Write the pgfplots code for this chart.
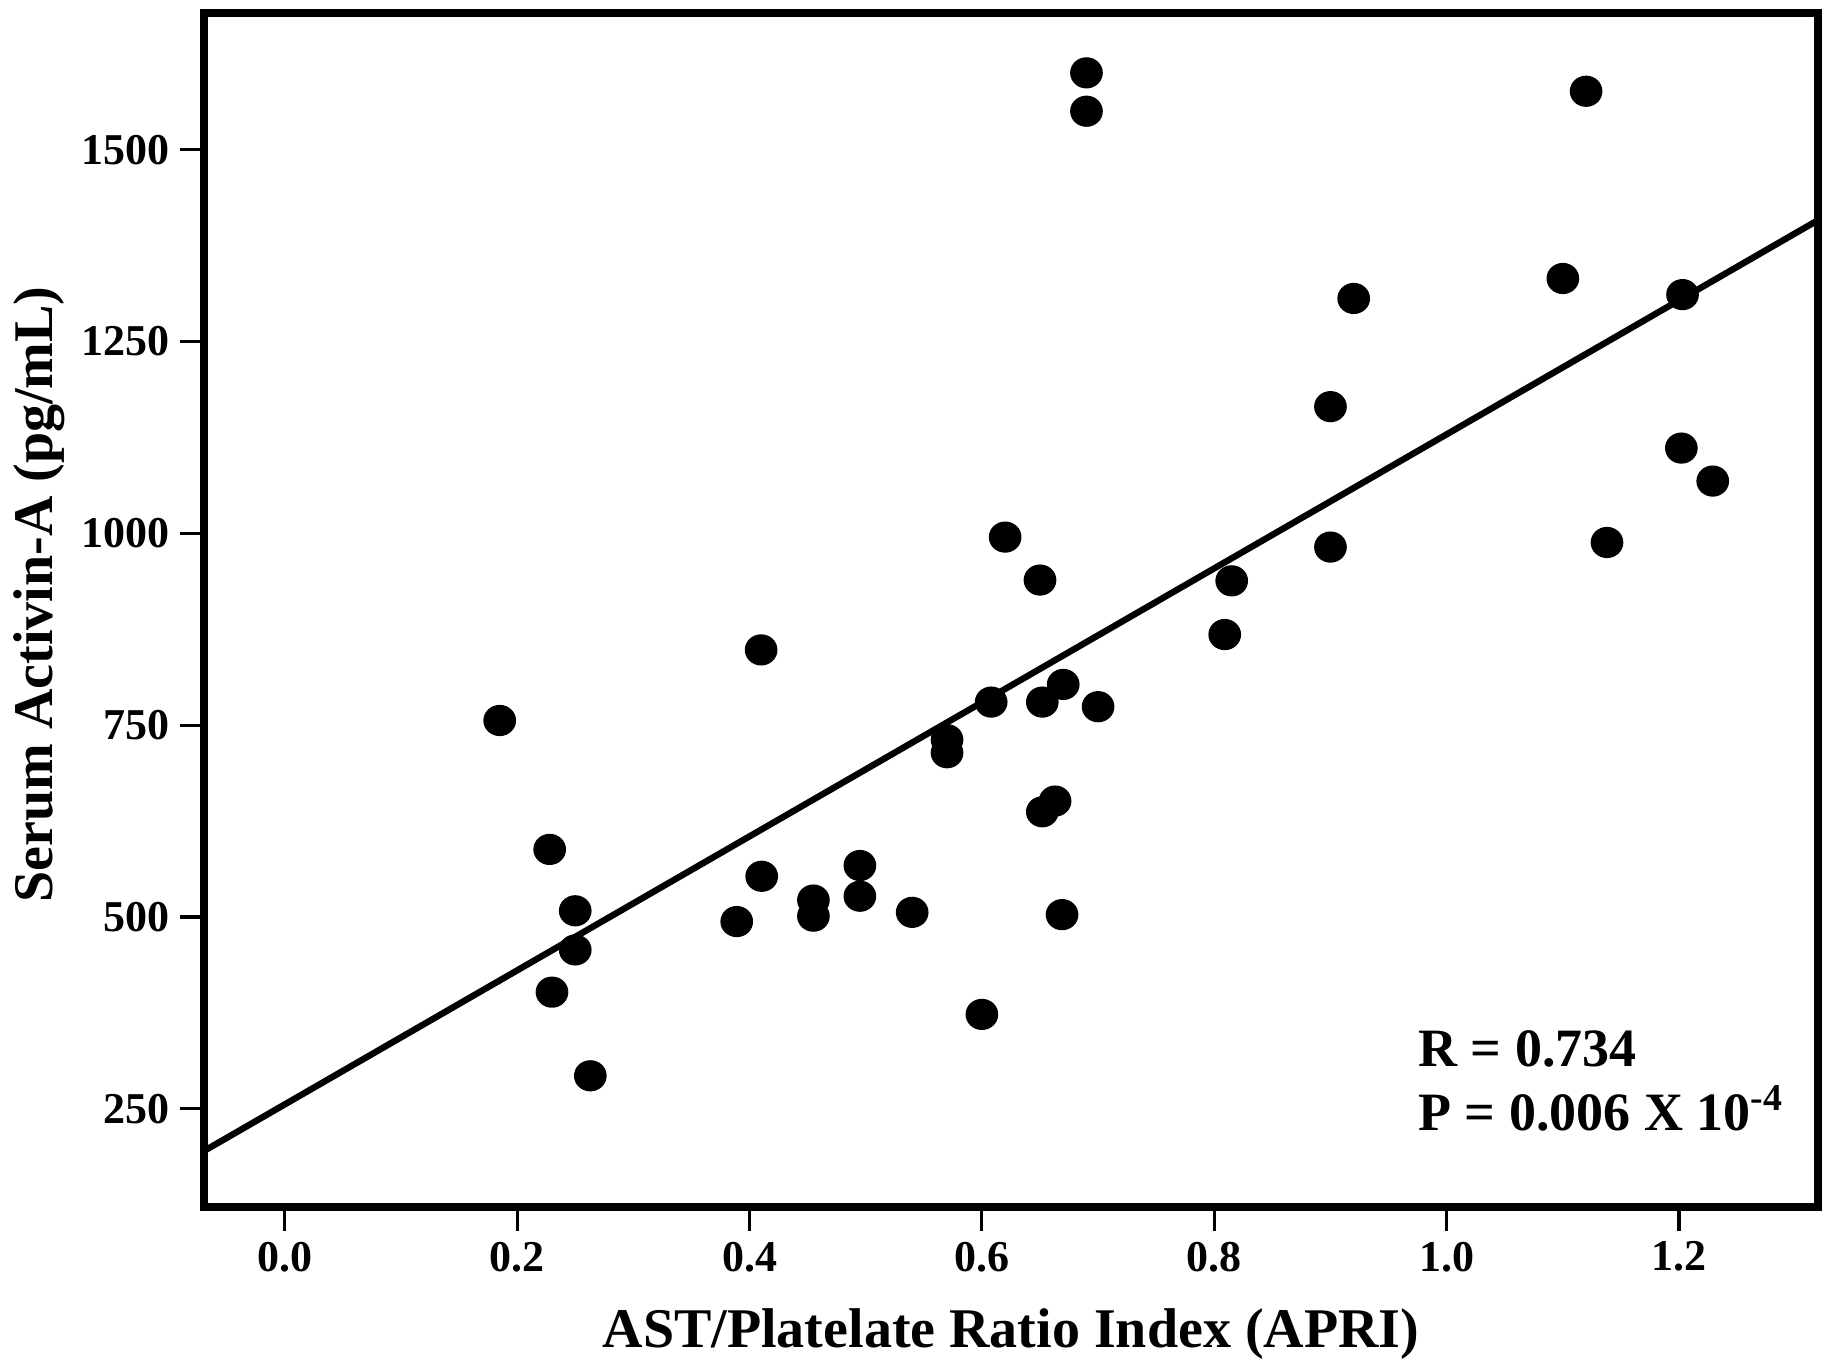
\documentclass[border=0pt]{standalone}
\usepackage{fontspec}
\setmainfont{Liberation Serif}
\usepackage{pgfplots}
\pgfplotsset{compat=1.18}
\begin{document}
\begin{tikzpicture}
\path[use as bounding box] (-51pt,-38.5pt) rectangle (404.5pt,301.75pt);
\begin{axis}[
  at={(0pt,0pt)}, anchor=south west,
  scale only axis, width=403.5pt, height=298.5pt,
  xmin=-0.0695, xmax=1.3196, ymin=122, ymax=1678,
  axis line style={line width=2pt},
  tick pos=left, tick align=outside,
  major tick length=6pt,
  major tick style={line width=0.8pt, black},
  xtick={0,0.2,0.4,0.6,0.8,1.0,1.2},
  ytick={250,500,750,1000,1250,1500},
  /pgf/number format/assume math mode=true,
  /pgf/number format/1000 sep={},
  xticklabel style={/pgf/number format/fixed, /pgf/number format/fixed zerofill, /pgf/number format/precision=1, inner sep=2.5pt},
  yticklabel style={inner sep=2.5pt},
  tick label style={font=\fontsize{11}{12}\selectfont\bfseries},
  label style={font=\fontsize{14}{16}\selectfont\bfseries},
  xlabel={AST/Platelate Ratio Index (APRI)},
  ylabel={Serum Activin-A (pg/mL)},
  xlabel style={at={(axis description cs:0.5,-0.118)}, anchor=base},
  ylabel style={at={(axis description cs:-0.0936,0.513)}, anchor=base},
]
\addplot[only marks, mark=*, mark size=3.7pt, mark options={xscale=1.05}, black] coordinates {
(0.690,1600) (0.690,1550) (1.120,1576) (1.100,1332) (0.920,1306)
(1.203,1311) (0.900,1165) (1.202,1111) (1.229,1068) (0.620,995)
(0.900,982) (1.138,988) (0.650,939) (0.815,938) (0.809,868)
(0.410,848) (0.185,756) (0.608,780) (0.652,780) (0.670,803)
(0.700,774) (0.570,731) (0.570,714) (0.663,651) (0.652,637)
(0.228,588) (0.4105,553) (0.495,567) (0.495,527) (0.455,522)
(0.455,501) (0.389,494) (0.540,506) (0.669,503) (0.250,508)
(0.250,457) (0.230,402) (0.600,373) (0.263,293)
};
\addplot[no marks, line width=1.6pt, black] coordinates {(-0.0695,195) (1.3196,1408)};
\node[anchor=base west, font=\fontsize{13.5}{16}\selectfont\bfseries, inner sep=0pt] at (rel axis cs:0.752,0.1173) {R = 0.734};
\node[anchor=base west, font=\fontsize{13.5}{16}\selectfont\bfseries, inner sep=0pt] at (rel axis cs:0.752,0.0637) {P = 0.006 X 10\textsuperscript{-4}};
\end{axis}
\end{tikzpicture}
\end{document}
